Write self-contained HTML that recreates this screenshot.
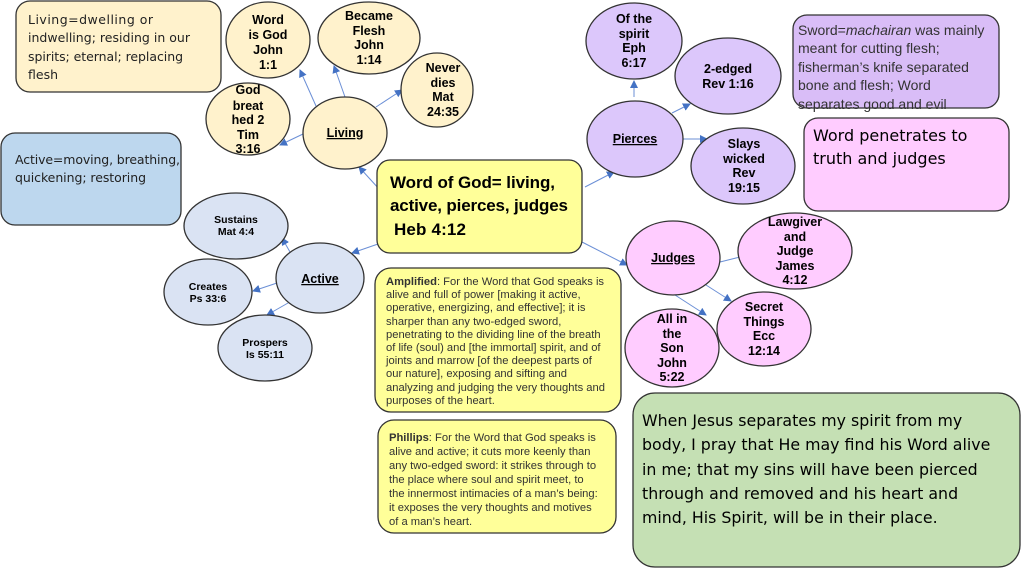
<!DOCTYPE html>
<html><head><meta charset="utf-8"><style>
html,body{margin:0;padding:0;background:#fff;}
svg{display:block;}
.b{font-family:"Liberation Sans",sans-serif;font-weight:bold;font-size:12.5px;fill:#000;text-anchor:middle;}
.t{font-family:"DejaVu Sans","Liberation Sans",sans-serif;fill:#222;}
.s{font-family:"Liberation Sans",sans-serif;font-size:11.2px;fill:#333;}
</style></head><body>
<svg width="1023" height="569" viewBox="0 0 1023 569" xmlns="http://www.w3.org/2000/svg">
<defs><marker id="a" markerWidth="8" markerHeight="8" refX="7" refY="4" orient="auto" markerUnits="userSpaceOnUse"><path d="M0,0 L8,4 L0,8 z" fill="#4472c4"/></marker></defs>
<g stroke="#6b8fd6" stroke-width="1" marker-end="url(#a)">
<line x1="380" y1="190" x2="359" y2="167"/>
<line x1="316" y1="106" x2="300" y2="70"/>
<line x1="345" y1="97" x2="334" y2="66"/>
<line x1="376" y1="107" x2="402" y2="90"/>
<line x1="303" y1="134" x2="280" y2="145"/>
<line x1="378" y1="244" x2="352" y2="253"/>
<line x1="290" y1="252" x2="282" y2="238"/>
<line x1="277" y1="283" x2="253" y2="291"/>
<line x1="288" y1="303" x2="267" y2="315"/>
<line x1="585" y1="187" x2="614" y2="172"/>
<line x1="634" y1="97" x2="634" y2="81"/>
<line x1="672" y1="113" x2="690" y2="104"/>
<line x1="683" y1="139" x2="707" y2="139"/>
<line x1="582" y1="242" x2="627" y2="265"/>
<line x1="706" y1="285" x2="731" y2="301"/>
<line x1="675" y1="295" x2="706" y2="315"/>
</g>
<line x1="720" y1="262" x2="740" y2="257" stroke="#6b8fd6" stroke-width="1"/>
<g stroke="#333" stroke-width="1.3">
<rect x="16" y="1" width="205" height="91" rx="14" fill="#fff2cc"/>
<rect x="1" y="133" width="180" height="92" rx="14" fill="#bdd7ee"/>
<ellipse cx="268" cy="40" rx="42" ry="38" fill="#fff2cc"/>
<ellipse cx="369" cy="38" rx="51" ry="36" fill="#fff2cc"/>
<ellipse cx="437" cy="90" rx="36" ry="37" fill="#fff2cc"/>
<ellipse cx="248" cy="119" rx="42" ry="36" fill="#fff2cc"/>
<ellipse cx="345" cy="133" rx="42" ry="36" fill="#fff2cc"/>
<rect x="377" y="160" width="205" height="93" rx="13" fill="#ffff99"/>
<ellipse cx="236" cy="226" rx="52" ry="33" fill="#dae3f3"/>
<ellipse cx="208" cy="292" rx="44" ry="33" fill="#dae3f3"/>
<ellipse cx="320" cy="278" rx="44" ry="35" fill="#dae3f3"/>
<ellipse cx="265" cy="348" rx="47" ry="33" fill="#dae3f3"/>
<rect x="375" y="268" width="246" height="144" rx="16" fill="#ffff99"/>
<rect x="378" y="420" width="238" height="113" rx="16" fill="#ffff99"/>
<ellipse cx="634" cy="41" rx="48" ry="38" fill="#dcc7fb"/>
<ellipse cx="728" cy="76" rx="53" ry="38" fill="#dcc7fb"/>
<ellipse cx="635" cy="139" rx="48" ry="38" fill="#dcc7fb"/>
<ellipse cx="743" cy="166" rx="52" ry="38" fill="#dcc7fb"/>
<rect x="793" y="15" width="206" height="93" rx="14" fill="#d9bdf7"/>
<rect x="804" y="118" width="205" height="93" rx="14" fill="#ffccff"/>
<ellipse cx="673" cy="258" rx="47" ry="37" fill="#ffccff"/>
<ellipse cx="795" cy="251" rx="57" ry="38" fill="#ffccff"/>
<ellipse cx="764" cy="329" rx="47" ry="37" fill="#ffccff"/>
<ellipse cx="672" cy="348" rx="47" ry="39" fill="#ffccff"/>
<rect x="633" y="393" width="387" height="174" rx="22" fill="#c5e0b4"/>
</g>
<g class="t" style="font-size:12.5px">
<text x="28" y="24" textLength="125">Living=dwelling or</text>
<text x="28" y="42" textLength="162">indwelling; residing in our</text>
<text x="28" y="61" textLength="155">spirits; eternal; replacing</text>
<text x="28" y="79">flesh</text>
</g>
<g class="t" style="font-size:12.5px">
<text x="15" y="164" textLength="165">Active=moving, breathing,</text>
<text x="15" y="182" textLength="131">quickening; restoring</text>
</g>
<g class="b">
<text x="268" y="24">Word</text><text x="268" y="39">is God</text><text x="268" y="54">John</text><text x="268" y="69">1:1</text>
<text x="369" y="20">Became</text><text x="369" y="35">Flesh</text><text x="369" y="49">John</text><text x="369" y="64">1:14</text>
<text x="443" y="72">Never</text><text x="443" y="87">dies</text><text x="443" y="101">Mat</text><text x="443" y="116">24:35</text>
<text x="248" y="94">God</text><text x="248" y="110">breat</text><text x="248" y="124">hed 2</text><text x="248" y="139">Tim</text><text x="248" y="153">3:16</text>
<text x="345" y="137" text-decoration="underline">Living</text>
<text x="236" y="223" style="font-size:10.5px">Sustains</text><text x="236" y="235" style="font-size:10.5px">Mat 4:4</text>
<text x="208" y="290" style="font-size:10.5px">Creates</text><text x="208" y="302" style="font-size:10.5px">Ps 33:6</text>
<text x="320" y="283" text-decoration="underline">Active</text>
<text x="265" y="346" style="font-size:10.5px">Prospers</text><text x="265" y="358" style="font-size:10.5px">Is 55:11</text>
<text x="634" y="23">Of the</text><text x="634" y="38">spirit</text><text x="634" y="52">Eph</text><text x="634" y="67">6:17</text>
<text x="728" y="73">2-edged</text><text x="728" y="88">Rev 1:16</text>
<text x="635" y="143" text-decoration="underline">Pierces</text>
<text x="744" y="148">Slays</text><text x="744" y="163">wicked</text><text x="744" y="177">Rev</text><text x="744" y="192">19:15</text>
<text x="673" y="262" text-decoration="underline">Judges</text>
<text x="795" y="226">Lawgiver</text><text x="795" y="241">and</text><text x="795" y="255">Judge</text><text x="795" y="270">James</text><text x="795" y="284">4:12</text>
<text x="764" y="311">Secret</text><text x="764" y="326">Things</text><text x="764" y="340">Ecc</text><text x="764" y="355">12:14</text>
<text x="672" y="323">All in</text><text x="672" y="338">the</text><text x="672" y="352">Son</text><text x="672" y="367">John</text><text x="672" y="381">5:22</text>
</g>
<g font-family="'Liberation Sans',sans-serif" font-weight="bold" font-size="17px" fill="#000">
<text x="390" y="188" textLength="165">Word of God= living,</text>
<text x="390" y="211" textLength="178">active, pierces, judges</text>
<text x="394" y="235" textLength="72">Heb 4:12</text>
</g>
<g class="s">
<text x="386" y="285"><tspan font-weight="bold">Amplified</tspan>: For the Word that God speaks is</text>
<text x="386" y="298">alive and full of power [making it active,</text>
<text x="386" y="311">operative, energizing, and effective]; it is</text>
<text x="386" y="325">sharper than any two-edged sword,</text>
<text x="386" y="338">penetrating to the dividing line of the breath</text>
<text x="386" y="351">of life (soul) and [the immortal] spirit, and of</text>
<text x="386" y="364">joints and marrow [of the deepest parts of</text>
<text x="386" y="377">our nature], exposing and sifting and</text>
<text x="386" y="391">analyzing and judging the very thoughts and</text>
<text x="386" y="404">purposes of the heart.</text>
<text x="389" y="441"><tspan font-weight="bold">Phillips</tspan>: For the Word that God speaks is</text>
<text x="389" y="455">alive and active; it cuts more keenly than</text>
<text x="389" y="469">any two-edged sword: it strikes through to</text>
<text x="389" y="483">the place where soul and spirit meet, to</text>
<text x="389" y="497">the innermost intimacies of a man’s being:</text>
<text x="389" y="511">it exposes the very thoughts and motives</text>
<text x="389" y="525">of a man’s heart.</text>
</g>
<g font-family="'Liberation Sans',sans-serif" font-size="14px" fill="#333">
<text x="798" y="35">Sword=<tspan font-style="italic">machairan</tspan> was mainly</text>
<text x="798" y="53">meant for cutting flesh;</text>
<text x="798" y="72">fisherman’s knife separated</text>
<text x="798" y="90">bone and flesh; Word</text>
<text x="798" y="109">separates good and evil</text>
</g>
<g font-family="'DejaVu Sans','Liberation Sans',sans-serif" font-size="16px" fill="#000">
<text x="813" y="141">Word penetrates to</text>
<text x="813" y="164">truth and judges</text>
</g>
<g font-family="'DejaVu Sans','Liberation Sans',sans-serif" font-size="15.8px" fill="#000">
<text x="642" y="426">When Jesus separates my spirit from my</text>
<text x="642" y="450">body, I pray that He may find his Word alive</text>
<text x="642" y="475">in me; that my sins will have been pierced</text>
<text x="642" y="499">through and removed and his heart and</text>
<text x="642" y="523">mind, His Spirit, will be in their place.</text>
</g>
</svg>
</body></html>
